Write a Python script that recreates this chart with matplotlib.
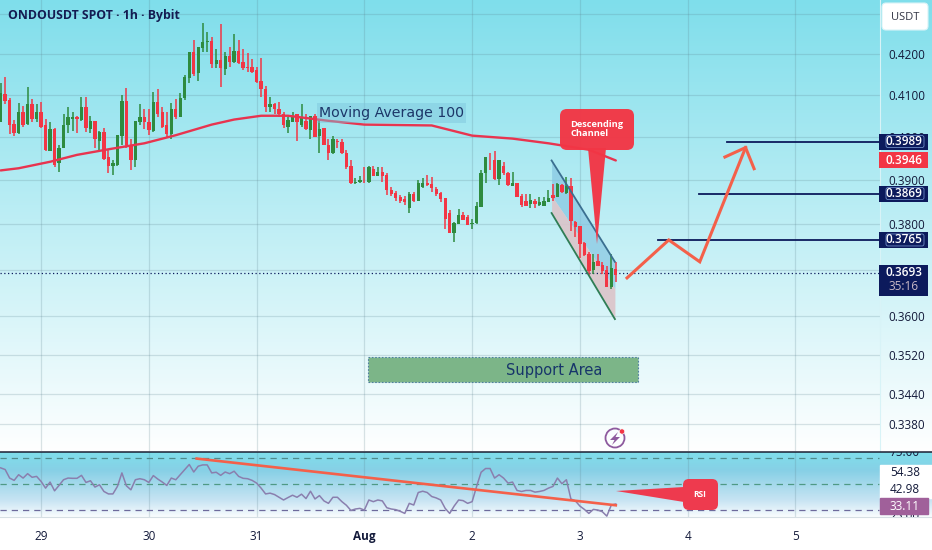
import numpy as np
import matplotlib.pyplot as plt
from matplotlib.patches import FancyBboxPatch, Polygon, Rectangle, Circle

# candles, one per hour
opens = [.4034,.4102,.4088,.4031,.4010,.4058,.4031,.4079,.4043,.4060,
         .4027,.3968,.4019,.3940,.3973,.4027,.4043,.4048,.4041,.4072,
         .4019,.4037,.3991,.4012,.3952,.3933,.3935,.4003,.4086,.3980,
         .3945,.4036,.4048,.4036,.4015,.4084,.4058,.4027,.4008,.4065,
         .4048,.4093,.4141,.4205,.4153,.4215,.4230,.4233,.4175,.4185,
         .4163,.4195,.4180,.4208,.4180,.4168,.4168,.4161,.4134,.4114,
         .4070,.4079,.4067,.4055,.4024,.4036,.4053,.4029,.4038,.4017,
         .4050,.4001,.4022,.3980,.3963,.3991,.3989,.3963,.3933,.3892,
         .3896,.3901,.3896,.3926,.3910,.3919,.3912,.3877,.3870,.3861,
         .3856,.3836,.3868,.3852,.3883,.3894,.3890,.3879,.3870,.3858,
         .3825,.3780,.3800,.3820,.3816,.3800,.3802,.3838,.3917,.3947,
         .3945,.3903,.3933,.3917,.3886,.3894,.3863,.3852,.3845,.3852,
         .3843,.3841,.3850,.3865,.3861,.3888,.3870,.3886,.3805,.3796,
         .3758,.3734,.3700,.3719,.3711,.3700,.3663,.3702]
closes = [.4104,.4086,.4029,.4010,.4058,.4029,.4079,.4043,.4060,.4024,
          .3970,.4019,.3935,.3975,.4029,.4046,.4046,.4043,.4072,.4022,
          .4038,.3994,.4012,.3949,.3933,.3938,.4005,.4086,.3980,.3945,
          .4038,.4048,.4034,.4017,.4084,.4055,.4024,.4008,.4065,.4048,
          .4093,.4143,.4205,.4151,.4218,.4230,.4233,.4175,.4185,.4166,
          .4195,.4180,.4208,.4178,.4166,.4166,.4156,.4131,.4114,.4070,
          .4079,.4065,.4055,.4027,.4041,.4050,.4036,.4048,.4019,.4050,
          .3999,.4019,.3980,.3963,.3994,.3989,.3963,.3929,.3892,.3896,
          .3899,.3899,.3929,.3910,.3919,.3910,.3877,.3868,.3858,.3852,
          .3850,.3868,.3852,.3894,.3894,.3888,.3881,.3868,.3856,.3811,
          .3780,.3802,.3820,.3809,.3798,.3802,.3841,.3917,.3954,.3945,
          .3903,.3945,.3915,.3888,.3894,.3861,.3843,.3841,.3854,.3845,
          .3850,.3852,.3858,.3858,.3890,.3872,.3886,.3807,.3794,.3756,
          .3732,.3698,.3717,.3708,.3698,.3663,.3704,.3689]
highs = [.4128,.4143,.4093,.4041,.4081,.4074,.4119,.4091,.4077,.4084,
         .4043,.4036,.4022,.3982,.4053,.4070,.4058,.4050,.4095,.4095,
         .4050,.4038,.4015,.4022,.3970,.3947,.4005,.4100,.4117,.3994,
         .4038,.4079,.4065,.4065,.4107,.4114,.4072,.4060,.4081,.4091,
         .4104,.4149,.4205,.4235,.4218,.4277,.4254,.4242,.4213,.4274,
         .4205,.4218,.4249,.4235,.4213,.4203,.4188,.4168,.4190,.4122,
         .4095,.4081,.4084,.4058,.4048,.4058,.4055,.4077,.4055,.4050,
         .4055,.4041,.4022,.3994,.4001,.3996,.3994,.3970,.3947,.3905,
         .3910,.3929,.3933,.3933,.3931,.3931,.3917,.3883,.3874,.3865,
         .3863,.3872,.3872,.3901,.3905,.3912,.3908,.3883,.3872,.3858,
         .3832,.3805,.3834,.3827,.3820,.3811,.3850,.3924,.3954,.3963,
         .3966,.3945,.3942,.3919,.3919,.3894,.3868,.3868,.3868,.3856,
         .3861,.3861,.3877,.3890,.3892,.3890,.3908,.3905,.3807,.3796,
         .3760,.3739,.3734,.3734,.3717,.3708,.3734,.3717]
lows = [.4034,.4079,.4008,.4003,.4008,.4024,.4029,.4036,.4036,.4022,
        .3968,.3968,.3929,.3919,.3973,.4010,.4015,.4010,.4038,.4012,
        .4010,.3973,.3966,.3945,.3917,.3912,.3933,.3982,.3975,.3922,
        .3931,.4029,.4019,.4005,.4012,.4048,.4022,.3999,.3994,.4043,
        .4048,.4088,.4128,.4146,.4134,.4205,.4205,.4166,.4166,.4119,
        .4149,.4168,.4178,.4175,.4161,.4156,.4153,.4128,.4095,.4060,
        .4060,.4053,.4048,.4022,.4010,.4034,.3991,.4024,.4017,.3994,
        .3999,.3963,.3980,.3945,.3961,.3975,.3961,.3926,.3890,.3890,
        .3892,.3892,.3894,.3910,.3910,.3896,.3865,.3863,.3852,.3847,
        .3843,.3825,.3850,.3852,.3881,.3886,.3872,.3863,.3850,.3789,
        .3780,.3760,.3800,.3809,.3798,.3789,.3800,.3838,.3894,.3924,
        .3901,.3888,.3912,.3886,.3886,.3861,.3838,.3841,.3836,.3836,
        .3841,.3841,.3850,.3852,.3861,.3870,.3868,.3785,.3771,.3726,
        .3730,.3689,.3691,.3708,.3691,.3663,.3659,.3674]

# moving average 100
ma_hours = [0,4,11,17,24,32,39,47,52,58,64,73,81,96,105,114,122,131,137]
ma_values = [.3922,.3927,.3942,.3958,.3971,.3985,.4004,.4029,.4041,.4050,.4050,
             .4038,.4029,.4027,.4003,.3996,.3985,.3970,.3945]

# rsi pane
rsi_values = [62.7,61.4,54.8,53.0,57.4,54.8,58.2,55.4,56.1,52.2,47.0,51.7,44.9,49.1,53.5,
              54.8,54.6,54.6,56.9,51.4,52.7,47.8,49.6,44.4,42.5,42.5,48.3,58.8,48.8,45.7,
              53.5,54.3,53.5,51.4,56.7,54.0,51.7,49.1,54.8,53.5,57.4,61.4,65.3,59.5,64.0,
              65.0,65.0,58.8,59.3,56.9,59.5,58.2,60.1,56.1,54.6,54.3,53.0,50.9,47.0,42.5,
              43.1,42.0,39.9,37.8,39.7,41.5,39.9,42.3,38.9,44.6,38.6,41.2,37.1,35.2,39.9,
              39.9,36.5,33.7,29.7,30.8,31.3,30.0,37.8,36.5,37.8,37.1,31.8,30.8,30.3,29.0,
              27.4,35.2,33.9,43.6,44.6,43.6,40.5,39.4,37.8,31.3,27.4,33.1,37.8,37.3,35.2,
              36.5,48.3,59.3,62.2,62.2,54.8,57.4,54.8,50.9,51.7,45.2,44.4,45.2,45.2,43.9,
              44.4,45.2,47.0,48.3,54.8,50.4,53.5,38.6,37.1,33.1,30.5,27.4,30.5,30.0,28.7,
              25.3,33.9,34.7]
rsi_trend_hours = [43.65, 137]
rsi_trend_values = [69.9, 33.7]

# channel, drawn levels, projected path
channel_hours = [122.7, 136.8]
channel_top = [.3945, .3717]
channel_mid = [.3864, .3659]
channel_bottom = [.3825, .3594]
level_prices = [.3989, .3869, .3765]
level_starts = [161.7, 155.5, 146.4]
path_hours = [139.5, 148.8, 155.7, 165.9]
path_prices = [.3682, .3765, .3717, .3975]
head_hours = [161.3, 165.9, 167.8]
head_prices = [.3953, .3975, .3926]
support_hours = [81.8, 142]
support_prices = [.3463, .3515]
last_price = .3693
ma_price = .3946

price_ticks = [.43, .42, .41, .40, .39, .38, .37, .36, .352, .344, .338]
hidden_ticks = [.43, .37]
day_hours = [9, 33, 57, 81, 105, 129, 153, 177]
day_labels = ['29', '30', '31', 'Aug', '2', '3', '4', '5']

W, H = 932, 550
GREEN = '#2e8b3f'
RED = '#f23645'
NAVY = '#0c1a5c'
ORANGE = '#f4604a'
INK = '#131a3a'
GRID = '#5a7f8c'
FONT = 'Open Sans'

px_per_hour = 4.49


def hour_of(px):
    return (px - 0.67) / px_per_hour


fig = plt.figure(figsize=(W / 100, H / 100), dpi=100, facecolor='white')

# gradient backgrounds
bg = fig.add_axes([0, 0, 1, 1], zorder=0)
bg.set_axis_off()
rows = np.arange(H)
stops_y = [0, 451, 452, 470, 500, 518, 550]
grad = np.stack([np.interp(rows, stops_y, [127, 255, 127, 135, 200, 255, 255]),
                 np.interp(rows, stops_y, [222, 255, 222, 208, 228, 255, 255]),
                 np.interp(rows, stops_y, [235, 255, 235, 230, 243, 255, 255])], axis=1)
bg.imshow(grad[:, None, :] / 255, aspect='auto', extent=[0, W, H, 0])

# price pane
ax = fig.add_axes([0, (H - 451) / H, 880 / W, 451 / H], zorder=1)
ax.patch.set_alpha(0)
ax.set_yscale('log')
ax.set_xlim(hour_of(0), hour_of(880))
ax.set_ylim(.3326, .4335)
for s in ['top', 'left', 'bottom']:
    ax.spines[s].set_visible(False)
ax.spines['right'].set_color('#d8f3f7')
ax.yaxis.tick_right()
ax.set_yticks(price_ticks)
ax.set_yticklabels(['' if p in hidden_ticks else '%.4f' % p for p in price_ticks],
                   fontsize=8.5, color=INK, family=FONT)
ax.minorticks_off()
ax.tick_params(axis='y', length=0, pad=6)
ax.set_xticks(day_hours)
ax.tick_params(axis='x', length=0, labelbottom=False)
ax.grid(True, color=GRID, alpha=0.22, lw=0.9)
ax.set_axisbelow(True)

# channel fills stay under the candles
ax.fill_between(channel_hours, channel_mid, channel_top, color='#86c6e2', alpha=0.7, lw=0, zorder=1)
ax.fill_between(channel_hours, channel_bottom, channel_mid, color='#dcc4c9', alpha=0.9, lw=0, zorder=1)

hours = np.arange(len(opens))
colors = [GREEN if c >= o else RED for o, c in zip(opens, closes)]
ax.vlines(hours, lows, highs, colors=colors, lw=1.1, zorder=3)
ax.bar(hours, np.abs(np.array(closes) - np.array(opens)), bottom=np.minimum(opens, closes),
       width=0.74, color=colors, lw=0, zorder=3.2)

ax.plot(ma_hours, ma_values, color='#e8344f', lw=1.7, zorder=4, solid_capstyle='round')

ax.plot(channel_hours, channel_top, color='#3b6f90', lw=1.3, zorder=4)
ax.plot(channel_hours, channel_bottom, color='#2f7d55', lw=1.3, zorder=4)

ax.axhline(last_price, color=NAVY, lw=0.9, ls=(0, (1, 2)), zorder=2)
for price, start in zip(level_prices, level_starts):
    ax.plot([start, hour_of(880)], [price, price], color=NAVY, lw=1.3, zorder=4)

ax.plot(path_hours, path_prices, color=ORANGE, lw=2.2, zorder=5, solid_joinstyle='miter')
ax.plot(head_hours, head_prices, color=ORANGE, lw=2.2, zorder=5, solid_joinstyle='miter')

ax.add_patch(Rectangle((support_hours[0], support_prices[0]), support_hours[1] - support_hours[0],
                       support_prices[1] - support_prices[0], facecolor='#7cb588', edgecolor='#4f7fa0',
                       ls=(0, (1.5, 1.5)), lw=0.8, zorder=2))

# rsi pane runs on under the price scale, the labels get clipped by it
rsi = fig.add_axes([0, (H - 516.5) / H, 1, 64.5 / H], zorder=1)
rsi.patch.set_alpha(0)
rsi.set_xlim(hour_of(0), hour_of(W))
rsi.set_ylim(25, 75)
for s in ['left', 'right']:
    rsi.spines[s].set_visible(False)
rsi.spines['top'].set_color('#1b1f33')
rsi.spines['top'].set_linewidth(1.1)
rsi.spines['bottom'].set_color('#d6dfe4')
rsi.set_yticks([])
rsi.set_xticks(day_hours)
rsi.set_xticklabels(day_labels, fontsize=8.5, color=INK, family=FONT)
rsi.get_xticklabels()[3].set_fontweight('bold')
rsi.tick_params(axis='x', length=0, pad=10)
rsi.grid(True, axis='x', color=GRID, alpha=0.22, lw=0.9)
rsi.set_axisbelow(True)
for level, col in [(70, '#4f8a8c'), (50, '#4f9a85'), (30, '#6d6a9c')]:
    rsi.plot([hour_of(0), hour_of(879)], [level, level], color=col, lw=0.9, ls=(0, (5, 4)), zorder=2)
rsi.plot(np.arange(len(rsi_values)), rsi_values, color='#8a7fae', lw=1.1, zorder=3)
rsi.plot(rsi_trend_hours, rsi_trend_values, color=ORANGE, lw=1.9, zorder=4)

# rsi scale
label_x = hour_of(905)
rsi.add_patch(Rectangle((hour_of(880), 39), hour_of(932) - hour_of(880), 26, color='white', zorder=5))
rsi.add_patch(Rectangle((hour_of(880), 27), hour_of(928) - hour_of(880), 12.4, color='#a0609a', zorder=6))
rsi.text(label_x, 75, '75.00', ha='center', va='center', fontsize=8.5, color=INK, family=FONT, clip_on=True, zorder=4)
rsi.text(label_x, 25, '25.00', ha='center', va='center', fontsize=8.5, color=INK, family=FONT, clip_on=True, zorder=4)
rsi.text(label_x, 59, '54.38', ha='center', va='center', fontsize=8.5, color=INK, family=FONT, zorder=7)
rsi.text(label_x, 45.7, '42.98', ha='center', va='center', fontsize=8.5, color=INK, family=FONT, zorder=7)
rsi.text(label_x, 33.1, '33.11', ha='center', va='center', fontsize=8.5, color='white', family=FONT, zorder=7)

# everything hand drawn goes in pixel coordinates on top
deco = fig.add_axes([0, 0, 1, 1], zorder=3)
deco.set_xlim(0, W)
deco.set_ylim(H, 0)
deco.set_axis_off()


def price_y(price):
    return H - ax.transData.transform((0, price))[1]


def price_box(price, text, color, edge=None):
    y = price_y(price)
    deco.add_patch(Rectangle((879, y - 8), 49, 16, facecolor=color, edgecolor='none'))
    if edge:
        deco.add_patch(FancyBboxPatch((886, y - 6), 38, 12, boxstyle='round,pad=0,rounding_size=2',
                                      facecolor='none', edgecolor=edge, lw=0.5))
    deco.text(904, y, text, ha='center', va='center', color='white', fontsize=8.5, family=FONT, weight='semibold')


deco.text(8, 16, 'ONDOUSDT SPOT · 1h · Bybit', ha='left', va='center', fontsize=8.8,
          family=FONT, weight='bold', color='#141c52')

deco.add_patch(FancyBboxPatch((882, 3), 46, 27, boxstyle='round,pad=0,rounding_size=4',
                              facecolor='white', edgecolor='#d8f3f7', lw=0.8))
deco.text(905, 17, 'USDT', ha='center', va='center', fontsize=8, color='#333645', family=FONT)

price_box(level_prices[0], '%.4f' % level_prices[0], NAVY, '#7fa0d8')
price_box(ma_price, '%.4f' % ma_price, RED)
price_box(level_prices[1], '%.4f' % level_prices[1], NAVY, '#7fa0d8')
price_box(level_prices[2], '%.4f' % level_prices[2], NAVY, '#7fa0d8')
y_last = price_y(last_price)
deco.add_patch(Rectangle((879, y_last - 8), 49, 31, facecolor=NAVY, edgecolor='none'))
deco.text(904, y_last, '%.4f' % last_price, ha='center', va='center', color='white', fontsize=8.5,
          family=FONT, weight='semibold')
deco.text(904, y_last + 14, '35:16', ha='center', va='center', color='#c9b9c6', fontsize=8.5, family=FONT)

# labels
deco.add_patch(Rectangle((317, 103), 149, 20, facecolor='#7cc4dc', alpha=0.45, edgecolor='none'))
deco.text(391.5, 113, 'Moving Average 100', ha='center', va='center', fontsize=10.2, color='#1c3668',
          family='DejaVu Sans')
deco.text(554, 371, 'Support Area', ha='center', va='center', fontsize=10.5, color='#17356a',
          family='DejaVu Sans')

# channel callout
deco.add_patch(Polygon([(588, 148), (606, 148), (597, 244)], closed=True, facecolor=RED, edgecolor='none', alpha=0.97))
deco.add_patch(FancyBboxPatch((560, 109), 74, 41, boxstyle='round,pad=0,rounding_size=7',
                              facecolor=RED, edgecolor='none', alpha=0.97))
deco.text(570.5, 129, 'Descending\nChannel', ha='left', va='center', fontsize=6.7, color='white',
          family=FONT, weight='bold', linespacing=1.05)

# rsi callout
deco.add_patch(Polygon([(684, 487), (684, 502), (616, 491)], closed=True, facecolor='#ee3a4e', edgecolor='none'))
deco.add_patch(FancyBboxPatch((683, 479), 35, 31, boxstyle='round,pad=0,rounding_size=6',
                              facecolor='#ee3a4e', edgecolor='none'))
deco.text(700, 494.5, 'RSI', ha='center', va='center', fontsize=6, color='white', family=FONT, weight='bold')

# lightning icon
deco.add_patch(Circle((615, 438), 9.5, facecolor='none', edgecolor='#8e5a9e', lw=1.3))
deco.add_patch(Polygon([(618, 432), (610, 440), (614.5, 440), (612, 445), (620, 437), (615.5, 437)],
                       closed=True, facecolor='#8e5a9e', edgecolor='none'))
deco.add_patch(Circle((622, 431.5), 2.6, facecolor=RED, edgecolor='white', lw=0.4))

fig.savefig('out.png', dpi=100)
